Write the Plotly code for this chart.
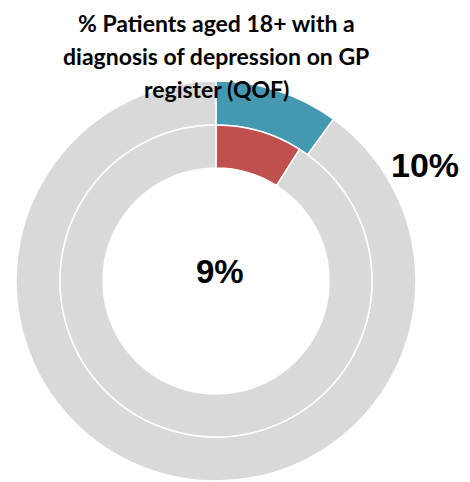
import plotly.graph_objects as go

# Data
title_lines = ["% Patients aged 18+ with a", "diagnosis of depression on GP", "register (QOF)"]
outer_label = "Area"
outer_value = 10   # % (outer ring, blue)
inner_label = "Practice"
inner_value = 9    # % (inner ring, red)

outer_color = "#4499B1"
inner_color = "#C0504D"
rest_color = "#D9D9D9"

# page body has an 8px margin; figure is sized to fit the 470x482 window
OFF = 8
W, H = 470 - OFF, 482 - OFF


def px(x):
    return (x - OFF) / W


def py(y):
    return 1 - (y - OFF) / H


CX, CY = 216, 281      # page coordinates of ring centre
R_OUT, R_MID, R_IN = 200, 156, 113

fig = go.Figure()

fig.add_trace(go.Pie(
    values=[outer_value, 100 - outer_value],
    labels=[outer_label, "Other"],
    marker=dict(colors=[outer_color, rest_color], line=dict(color="white", width=1.5)),
    hole=R_MID / R_OUT,
    sort=False,
    direction="clockwise",
    rotation=0,
    textinfo="none",
    hoverinfo="label+value",
    domain=dict(x=[px(CX - R_OUT), px(CX + R_OUT)], y=[py(CY + R_OUT), py(CY - R_OUT)]),
    showlegend=False,
))

fig.add_trace(go.Pie(
    values=[inner_value, 100 - inner_value],
    labels=[inner_label, "Other "],
    marker=dict(colors=[inner_color, rest_color], line=dict(color="white", width=1.5)),
    hole=R_IN / R_MID,
    sort=False,
    direction="clockwise",
    rotation=0,
    textinfo="none",
    hoverinfo="label+value",
    domain=dict(x=[px(CX - R_MID), px(CX + R_MID)], y=[py(CY + R_MID), py(CY - R_MID)]),
    showlegend=False,
))

annotations = []
for i, line in enumerate(title_lines):
    annotations.append(dict(
        text=f"<b>{line}</b>", x=px(216), y=py(23 + 33 * i),
        xref="paper", yref="paper", xanchor="center", yanchor="middle",
        showarrow=False, font=dict(family="Lato", size=23, color="#000000"),
    ))

annotations.append(dict(
    text=f"<b>{outer_value}%</b>", x=px(425), y=py(165),
    xref="paper", yref="paper", xanchor="center", yanchor="middle",
    showarrow=False, font=dict(family="Liberation Sans", size=34, color="#000000"),
))
annotations.append(dict(
    text=f"<b>{inner_value}%</b>", x=px(220), y=py(271),
    xref="paper", yref="paper", xanchor="center", yanchor="middle",
    showarrow=False, font=dict(family="Liberation Sans", size=33, color="#000000"),
))

fig.update_layout(
    width=W, height=H,
    margin=dict(l=0, r=0, t=0, b=0),
    paper_bgcolor="white",
    plot_bgcolor="white",
    annotations=annotations,
)

fig.write_html("out.html")
